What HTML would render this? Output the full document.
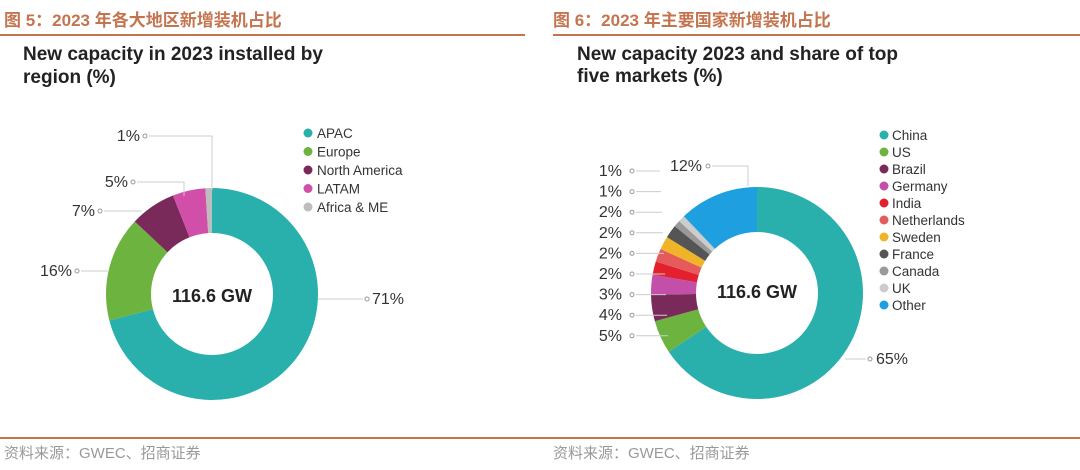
<!DOCTYPE html>
<html><head><meta charset="utf-8">
<style>
html,body{margin:0;padding:0;background:#fff;width:1080px;height:470px;overflow:hidden}
svg{display:block}
.hdr{font-family:"Liberation Sans","Noto Sans CJK SC",sans-serif;font-weight:bold;font-size:17px;fill:#c4754f}
.ttl{font-family:"Liberation Sans",sans-serif;font-size:19px;fill:#222;font-weight:bold}
.lab{font-family:"Liberation Sans",sans-serif;font-size:16px;fill:#333}
.leg{font-family:"Liberation Sans",sans-serif;font-size:13.5px;fill:#333}
.ctr{font-family:"Liberation Sans",sans-serif;font-size:18px;fill:#222;font-weight:bold}
.ftr{font-family:"Liberation Sans","Noto Sans CJK SC",sans-serif;font-size:15px;fill:#999}
</style></head><body>
<svg id="chart" width="1080" height="470" xmlns="http://www.w3.org/2000/svg">
<text class="hdr" x="4" y="26">图 5：2023 年各大地区新增装机占比</text>
<text class="hdr" x="553" y="26">图 6：2023 年主要国家新增装机占比</text>
<line x1="0" y1="35" x2="525" y2="35" stroke="#c4754f" stroke-width="2"/>
<line x1="553" y1="35" x2="1080" y2="35" stroke="#c4754f" stroke-width="2"/>
<line x1="0" y1="438" x2="1080" y2="438" stroke="#c4754f" stroke-width="2"/>
<text class="ftr" x="4" y="458">资料来源：GWEC、招商证券</text>
<text class="ftr" x="553" y="458">资料来源：GWEC、招商证券</text>
<text class="ttl" x="23" y="60">New capacity in 2023 installed by</text>
<text class="ttl" x="23" y="83">region (%)</text>
<text class="ttl" x="577" y="60">New capacity 2023 and share of top</text>
<text class="ttl" x="577" y="82">five markets (%)</text>
<g id="left"></g>
<g id="right"></g>
<text class="ctr" x="212" y="302" text-anchor="middle">116.6 GW</text>
<text class="ctr" x="757" y="298" text-anchor="middle">116.6 GW</text>
</svg>
<script>
const regionNames=["APAC","Europe","North America","LATAM","Africa & ME"];
const regionValues=[71,16,7,5,1];
const regionColors=["#2ab0ac","#6db33f","#7a2a5a","#d14fa8","#bdbdbd"];
const countryNames=["China","US","Brazil","Germany","India","Netherlands","Sweden","France","Canada","UK","Other"];
const countryValues=[65,5,4,3,2,2,2,2,1,1,12];
const countryColors=["#2ab0ac","#6db33f","#7a2a5a","#c44fa8","#e3202e","#e55b5b","#f0b429","#555555","#999999","#cccccc","#1ea0e0"];
const NS="http://www.w3.org/2000/svg";
function mk(t,a){const e=document.createElementNS(NS,t);for(const k in a)e.setAttribute(k,a[k]);return e;}
function arc(cx,cy,R,r,a0,a1){
  const p=(rad,a)=>[cx+rad*Math.sin(a),cy-rad*Math.cos(a)];
  const l=(a1-a0)>Math.PI?1:0;
  const [x0,y0]=p(R,a0),[x1,y1]=p(R,a1),[x2,y2]=p(r,a1),[x3,y3]=p(r,a0);
  return `M${x0},${y0}A${R},${R} 0 ${l} 1 ${x1},${y1}L${x2},${y2}A${r},${r} 0 ${l} 0 ${x3},${y3}Z`;
}
function donut(g,vals,cols,cx,cy,R,r,prefix){
  const tot=vals.reduce((a,b)=>a+b,0);let a=0;
  vals.forEach((v,i)=>{
    const a1=a+v/tot*2*Math.PI;
    const p=mk("path",{d:arc(cx,cy,R,r,a,a1),fill:cols[i]});
    
    
    g.appendChild(p);a=a1;
  });
}
const L=document.getElementById("left"),Rg=document.getElementById("right");
donut(L,regionValues,regionColors,212,294,106,61,'region');
donut(Rg,countryValues,countryColors,757,293,106,61,'country');
// left labels (APAC, Europe, North America, LATAM, Africa & ME)
const leftLab=[[366,304],[72,276],[95,216],[128,187],[140,141]];
regionValues.forEach((v,i)=>{
  const [x,y]=leftLab[i];
  const t=mk("text",{class:"lab",x:i==0?x+6:x,y:y,"text-anchor":i==0?"start":"end"});t.textContent=v+"%";
  
  
  L.appendChild(t);
  const c=mk("circle",{cx:i==0?x+1:x+5,cy:y-5,r:2,fill:"none",stroke:"#999"});
  
  
  L.appendChild(c);
});
const lineL=mk("path",{d:"M149,136H212V190M137,182H184V196M104,211H142M81,271H108M363,299H318",stroke:"#ccc",fill:"none"});


L.appendChild(lineL);
regionNames.forEach((n,i)=>{
  const y=133+i*18.5;
  const c=mk("circle",{cx:308,cy:y,r:4.5,fill:regionColors[i]});
  
  
  L.appendChild(c);
  const t=mk("text",{class:"leg",x:317,y:y+5});t.textContent=n;
  
  
  L.appendChild(t);
});
const rOrder=[9,8,7,6,5,4,3,2,1];
rOrder.forEach((idx,k)=>{
  const y=176+k*20.6;
  const t=mk("text",{class:"lab",x:622,y:y,"text-anchor":"end"});t.textContent=countryValues[idx]+"%";
  
  
  Rg.appendChild(t);
  const c=mk("circle",{cx:632,cy:y-5,r:2,fill:"none",stroke:"#999"});
  
  
  Rg.appendChild(c);
  const ln=mk("line",{x1:636,y1:y-5,x2:660+k*1,y2:y-5,stroke:"#ccc"});
  
  
  Rg.appendChild(ln);
});
[[countryValues[10],702,171,"end",708],[countryValues[0],876,364,"start",870]].forEach((d,k)=>{
  const t=mk("text",{class:"lab",x:d[1],y:d[2],"text-anchor":d[3]});t.textContent=d[0]+"%";
  
  
  Rg.appendChild(t);
  const c=mk("circle",{cx:d[4],cy:d[2]-5,r:2,fill:"none",stroke:"#999"});
  
  
  Rg.appendChild(c);
});
const lineR=mk("path",{d:"M712,166H748V186M866,359H845",stroke:"#ccc",fill:"none"});


Rg.appendChild(lineR);
countryNames.forEach((n,i)=>{
  const y=135+i*17;
  const c=mk("circle",{cx:884,cy:y,r:4.5,fill:countryColors[i]});
  
  
  Rg.appendChild(c);
  const t=mk("text",{class:"leg",x:892,y:y+5});t.textContent=n;
  
  
  Rg.appendChild(t);
});
</script>
</body></html>
